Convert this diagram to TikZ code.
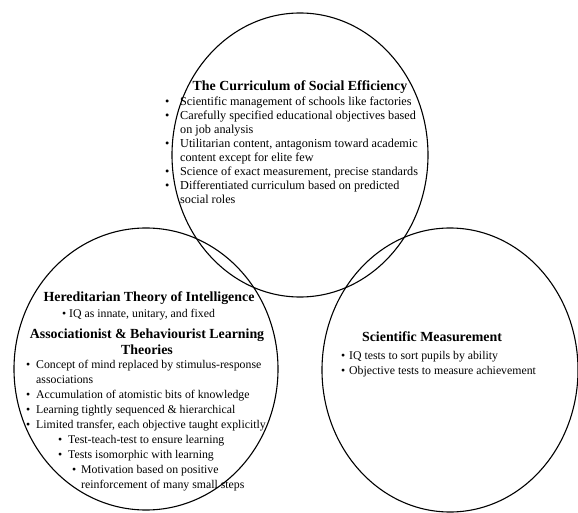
\documentclass[tikz,border=0pt]{standalone}
\usepackage{fontspec}
\setmainfont{Liberation Serif}
\usetikzlibrary{shapes.geometric}

% bullet in a box of given width
\newcommand\bul[1][14pt]{\makebox[#1][l]{\textbullet}}

\begin{document}
\begin{tikzpicture}[
  x=1pt,y=-1pt,
  venn/.style={ellipse,draw,line width=1.1pt,inner sep=0pt,
    minimum width=256pt,minimum height=284pt},
  heading/.style={font=\fontsize{13.9}{16.5}\selectfont\bfseries,align=center,inner sep=0pt},
  points/.style={font=\fontsize{11.8}{15}\selectfont,align=left,inner sep=0pt,anchor=north west}
]
  \useasboundingbox (0,0) rectangle (578,513);

  \node[venn] (eff) at (300,155) {};
  \node[venn,minimum width=264pt,minimum height=282pt] (hered) at (146,369) {};
  \node[venn] (meas) at (450,370) {};

  % social efficiency
  \node[heading] (effhead) at (300,87) {The Curriculum of Social Efficiency};
  \node[points,font=\fontsize{12.2}{13.9}\selectfont] (efflist) at (165,97) {%
    \bul[15pt]Scientific management of schools like factories\\
    \bul[15pt]Carefully specified educational objectives based\\
    \hspace*{15pt}on job analysis\\
    \bul[15pt]Utilitarian content, antagonism toward academic\\
    \hspace*{15pt}content except for elite few\\
    \bul[15pt]Science of exact measurement, precise standards\\
    \bul[15pt]Differentiated curriculum based on predicted\\
    \hspace*{15pt}social roles};

  % hereditarian / associationist
  \node[heading] (heredhead) at (149,298) {Hereditarian Theory of Intelligence};
  \node[points] (heredlist) at (62,309) {\bul[7pt]IQ as innate, unitary, and fixed};
  \node[heading] (assochead) at (147,341.5) {Associationist \& Behaviourist Learning\\Theories};
  \node[points] (assoclist) at (26,360) {%
    \bul[10pt]Concept of mind replaced by stimulus-response\\
    \hspace*{10pt}associations\\
    \bul[10pt]Accumulation of atomistic bits of knowledge\\
    \bul[10pt]Learning tightly sequenced \& hierarchical\\
    \bul[10pt]Limited transfer, each objective taught explicitly\\
    \hspace*{32pt}\bul[10pt]Test-teach-test to ensure learning\\
    \hspace*{32pt}\bul[10pt]Tests isomorphic with learning\\
    \hspace*{46pt}\bul[9pt]Motivation based on positive\\
    \hspace*{55pt}reinforcement of many small steps};

  % measurement
  \node[heading] (meashead) at (432,337) {Scientific Measurement};
  \node[points] (measlist) at (341,351.5) {%
    \bul[8pt]IQ tests to sort pupils by ability\\
    \bul[8pt]Objective tests to measure achievement};
\end{tikzpicture}
\end{document}
